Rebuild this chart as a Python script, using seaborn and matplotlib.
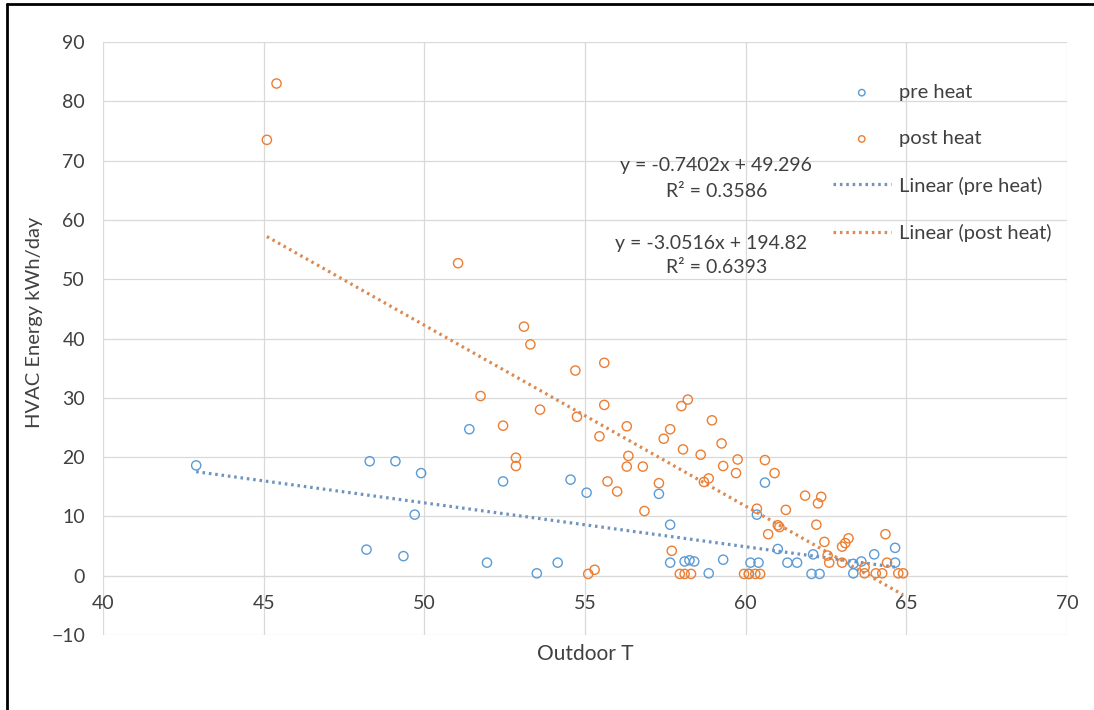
import matplotlib
matplotlib.use("Agg")
import matplotlib.pyplot as plt
from matplotlib.lines import Line2D
import numpy as np
import pandas as pd
import seaborn as sns

# values
pre_x = [42.9, 48.2, 48.3, 49.1, 49.35, 49.7, 49.9, 51.4, 51.95, 52.45,
         53.5, 54.15, 54.55, 55.05, 57.3, 57.65, 57.65, 58.1, 58.25, 58.4,
         58.85, 59.3, 60.1, 60.15, 60.4, 60.35, 60.6, 61.0, 61.3, 61.6,
         62.1, 62.05, 62.3, 63.35, 63.35, 63.6, 64.0, 64.65, 64.65]
pre_y = [18.6, 4.4, 19.3, 19.3, 3.3, 10.3, 17.3, 24.7, 2.2, 15.9,
         0.4, 2.2, 16.2, 14.0, 13.8, 8.6, 2.2, 2.4, 2.6, 2.4,
         0.4, 2.7, 0.3, 2.2, 2.2, 10.3, 15.7, 4.5, 2.2, 2.2,
         3.6, 0.3, 0.3, 0.4, 2.0, 2.4, 3.6, 4.7, 2.2]

post_x = [45.1, 45.4, 51.05, 53.1, 53.3, 51.75, 53.6, 54.7, 55.6, 54.75,
          55.6, 52.45, 52.85, 52.85, 56.3, 55.45, 56.35, 56.3, 56.8, 55.7,
          56.0, 56.85, 57.45, 57.65, 58.0, 58.2, 58.05, 58.6, 58.95, 59.25,
          59.3, 59.7, 59.75, 57.3, 58.7, 58.85, 57.7, 57.95, 58.1, 58.3,
          55.1, 55.3, 60.6, 60.9, 60.35, 61.25, 60.7, 61.0, 61.05, 61.85,
          62.35, 62.25, 62.2, 62.45, 62.55, 62.6, 63.0, 63.0, 63.1, 63.2,
          64.35, 63.7, 63.7, 64.05, 64.25, 64.75, 64.9, 59.95, 60.1, 60.3,
          60.45, 64.4]
post_y = [73.5, 83.0, 52.7, 42.0, 39.0, 30.3, 28.0, 34.6, 35.9, 26.8,
          28.8, 25.3, 19.9, 18.5, 25.2, 23.5, 20.2, 18.4, 18.4, 15.9,
          14.2, 10.9, 23.1, 24.7, 28.6, 29.7, 21.3, 20.4, 26.2, 22.3,
          18.5, 17.3, 19.6, 15.6, 15.8, 16.4, 4.2, 0.3, 0.3, 0.3,
          0.3, 1.0, 19.5, 17.3, 11.3, 11.1, 7.0, 8.5, 8.2, 13.5,
          13.3, 12.2, 8.6, 5.7, 3.4, 2.2, 2.2, 4.9, 5.5, 6.3,
          7.0, 1.4, 0.4, 0.4, 0.4, 0.4, 0.4, 0.3, 0.3, 0.3,
          0.3, 2.2]

# trendline equations shown on the chart
pre_fit = (-0.7402, 49.296, 0.3586)
post_fit = (-3.0516, 194.82, 0.6393)

blue = "#5B9BD5"
orange = "#ED7D31"
txt = "#404040"

sns.set_style("white")
plt.rcParams["font.family"] = ["Lato", "DejaVu Sans"]

fig = plt.figure(figsize=(10.94, 7.10), dpi=100)
ax = fig.add_axes([103 / 1094, 1 - 635 / 710, 964 / 1094, 593 / 710])

pre = pd.DataFrame({"x": pre_x, "y": pre_y})
post = pd.DataFrame({"x": post_x, "y": post_y})

sns.scatterplot(data=pre, x="x", y="y", ax=ax, color=blue, facecolor="none",
                edgecolor=blue, linewidth=1.0, s=44, label="pre heat", zorder=3)
sns.scatterplot(data=post, x="x", y="y", ax=ax, color=orange, facecolor="none",
                edgecolor=orange, linewidth=1.0, s=44, label="post heat", zorder=3)

for df, fit, col, name in [(pre, pre_fit, "#6F93BE", "Linear (pre heat)"),
                           (post, post_fit, "#DC8A52", "Linear (post heat)")]:
    xs = np.array([df["x"].min(), df["x"].max()])
    ys = fit[0] * xs + fit[1]
    sns.lineplot(x=xs, y=ys, ax=ax, color=col, linewidth=2.3,
                 linestyle=(0, (0.8, 1.2)), label=name, zorder=2)

ax.set_xlim(40, 70)
ax.set_ylim(-10, 90)
ax.set_xticks(range(40, 71, 5))
ax.set_yticks(range(-10, 91, 10))
ax.grid(True, color="#D9D9D9", linewidth=0.9)
ax.set_axisbelow(True)
for s in ["top", "right", "left"]:
    ax.spines[s].set_visible(False)
ax.spines["bottom"].set_position(("data", 0))
ax.spines["bottom"].set_color("#D9D9D9")
ax.tick_params(axis="both", length=0, labelsize=14, colors=txt)
ax.tick_params(axis="y", pad=13)
ax.tick_params(axis="x", pad=14)

ax.set_xlabel("Outdoor T", fontsize=15, color=txt)
ax.set_ylabel("HVAC Energy kWh/day", fontsize=14.5, color=txt)
ax.xaxis.set_label_coords(0.5, -0.015)
ax.yaxis.set_label_coords(-0.062, 0.528)

def eq_text(fit):
    return f"y = {fit[0]}x + {fit[1]}"

ax.text(0.636, 0.791, eq_text(pre_fit), transform=ax.transAxes, ha="center",
        va="center", fontsize=14, color=txt)
ax.text(0.637, 0.748, f"R² = {pre_fit[2]}", transform=ax.transAxes, ha="center",
        va="center", fontsize=14, color=txt)
ax.text(0.631, 0.661, eq_text(post_fit), transform=ax.transAxes, ha="center",
        va="center", fontsize=14, color=txt)
ax.text(0.637, 0.619, f"R² = {post_fit[2]}", transform=ax.transAxes, ha="center",
        va="center", fontsize=14, color=txt)

leg = ax.legend(loc="upper left", bbox_to_anchor=(0.738, 0.96), frameon=False,
                fontsize=14.5, labelspacing=1.45, handlelength=2.9,
                handletextpad=0.4, markerscale=0.7)
for t in leg.get_texts():
    t.set_color(txt)

# screenshot border (left and top edges)
fig.add_artist(Line2D([7 / 1094, 7 / 1094], [0, 1 - 4 / 710], transform=fig.transFigure,
                      color="black", linewidth=2))
fig.add_artist(Line2D([7 / 1094, 1], [1 - 4 / 710, 1 - 4 / 710], transform=fig.transFigure,
                      color="black", linewidth=2))

fig.savefig("out.png", dpi=100)
